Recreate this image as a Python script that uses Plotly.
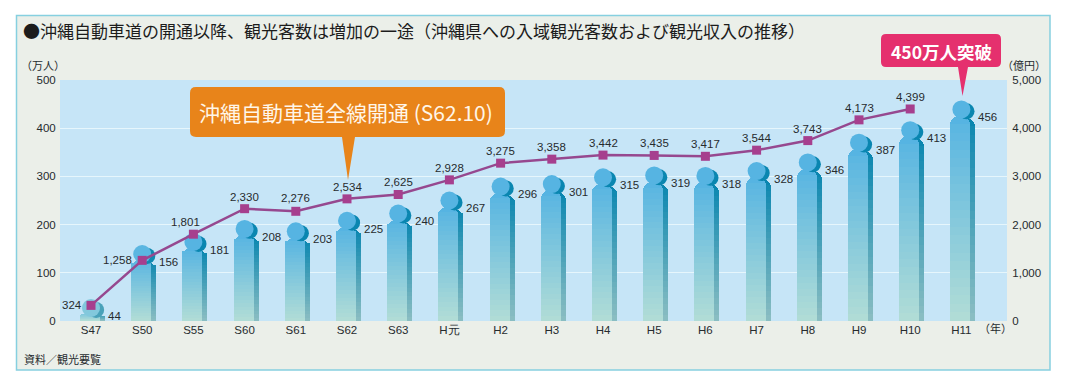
import plotly.graph_objects as go

categories = ["S47","S50","S55","S60","S61","S62","S63","H元","H2","H3","H4","H5","H6","H7","H8","H9","H10","H11"]
visitors = [44,156,181,208,203,225,240,267,296,301,315,319,318,328,346,387,413,456]
income = [324,1258,1801,2330,2276,2534,2625,2928,3275,3358,3442,3435,3417,3544,3743,4173,4399,None]
visitor_ticks = [0,100,200,300,400,500]
income_ticks = [0,1000,2000,3000,4000,5000]

W, H = 1065, 386
L, R, T, B = 60, 1007, 80, 321
PXX = 51.2
X0 = 91
xs = list(range(len(categories)))

def px(x): return (x - L) / (R - L)
def py(y): return (B - y) / (B - T)
def lerp(a, b, t): return tuple(a[i] + (b[i] - a[i]) * t for i in range(3))
def rgb(c): return "rgb(%d,%d,%d)" % tuple(round(v) for v in c)

PALE = (178, 221, 214)
TOP = (86, 180, 226)
SH_PALE = (140, 190, 194)
SH_TOP = (10, 134, 176)

def top_col(v, end): return lerp(PALE if end is TOP else SH_PALE, end, min(1.0, 0.35 + v / 260.0))

fig = go.Figure()
NB = 24
HEAD_MAIN = 17
HEAD_SH = 21
BODY_MAIN = 30
BODY_SH = 34
common = dict(hoverinfo="skip", showlegend=False)

def body(drop, end, pale, offset, width, radius):
    hts = [max(v - drop, 3) for v in visitors]
    fig.add_bar(x=xs, y=hts, base=[0]*len(xs), offset=offset, width=width,
                marker=dict(color=[rgb(top_col(v, end)) for v in visitors], cornerradius=radius, line_width=0), **common)
    for k in range(NB - 1, 0, -1):
        f = k / NB
        fig.add_bar(x=xs, y=[h * f for h in hts], base=[0]*len(xs), offset=offset, width=width,
                    marker=dict(color=[rgb(lerp(pale, top_col(v, end), (k - 0.5) / NB)) for v in visitors], line_width=0), **common)

body(BODY_SH, SH_TOP, SH_PALE, -0.215, 0.49, 9)
body(BODY_MAIN, TOP, PALE, -0.215, 0.39, 9)

fig.add_scatter(x=[i + 0.10 for i in xs], y=[v - HEAD_SH for v in visitors], mode="markers",
                marker=dict(size=16, color=[rgb(top_col(v, SH_TOP)) for v in visitors], line_width=0), **common)
fig.add_scatter(x=xs, y=[v - HEAD_MAIN for v in visitors], mode="markers",
                marker=dict(size=18, color=[rgb(top_col(v, TOP)) for v in visitors], line_width=0), **common)

fig.add_scatter(x=xs, y=income, yaxis="y2", mode="lines+markers", connectgaps=False,
                line=dict(color="#96488f", width=2.5),
                marker=dict(symbol="square", size=9, color="#a63f8e", line_width=0), **common)

NUM = "Liberation Sans, Arial, sans-serif"
CJK = "Noto Sans CJK JP, sans-serif"
TXT = "#262b2e"
ann = []
for i, v in enumerate(visitors):
    ann.append(dict(x=i, y=v, xref="x", yref="y", text=str(v), showarrow=False, xanchor="left",
                    yanchor="middle", xshift=15, yshift=-16, font=dict(family=NUM, size=11.5, color=TXT)))
line_shift = {0: (-19, 0), 1: (-25, 0), 2: (-8, 12), 4: (0, 13)}
for i, v in enumerate(income):
    if v is None:
        continue
    dx, dy = line_shift.get(i, (0, 12))
    ann.append(dict(x=i, y=v, xref="x", yref="y2", text=f"{v:,}", showarrow=False, xanchor="center",
                    yanchor="middle", xshift=dx, yshift=dy, font=dict(family=NUM, size=11.5, color=TXT)))

def label(x, y, text, size, color=TXT, family=CJK, anchor="left", bold=False):
    ann.append(dict(x=px(x), y=py(y), xref="paper", yref="paper", text=f"<b>{text}</b>" if bold else text,
                    showarrow=False, xanchor=anchor, yanchor="middle", font=dict(family=family, size=size, color=color)))

label(21, 30, "●沖縄自動車道の開通以降、観光客数は増加の一途（沖縄県への入域観光客数および観光収入の推移）", 17, "#1c1c1c")
label(43, 65, "（万人）", 11, anchor="center")
label(1024, 65, "（億円）", 11, anchor="center")
label(995, 328, "（年）", 11, anchor="center")
label(22, 359, "資料／観光要覧", 11)
label(346, 112, "沖縄自動車道全線開通 (S62.10)", 21, "#fff6e8")
ann[-1]["xanchor"] = "center"
label(941, 51, "450万人突破", 17.5, "#ffffff", bold=True)
ann[-1]["xanchor"] = "center"

def callout(x0, y0, x1, y1, r, bx0, bx1, tipx, tipy, color):
    p = lambda x, y: f"{px(x):.5f},{py(y):.5f}"
    return dict(type="path", xref="paper", yref="paper", layer="above", fillcolor=color, line_width=0,
                path=(f"M{p(x0 + r, y0)} L{p(x1 - r, y0)} Q{p(x1, y0)} {p(x1, y0 + r)} L{p(x1, y1 - r)} "
                      f"Q{p(x1, y1)} {p(x1 - r, y1)} L{p(bx1, y1)} L{p(tipx, tipy)} L{p(bx0, y1)} L{p(x0 + r, y1)} "
                      f"Q{p(x0, y1)} {p(x0, y1 - r)} L{p(x0, y0 + r)} Q{p(x0, y0)} {p(x0 + r, y0)} Z"))

def rect(x0, y0, x1, y1, fill, line=None, lw=0):
    return dict(type="rect", xref="paper", yref="paper", layer="below", x0=px(x0), x1=px(x1), y0=py(y1), y1=py(y0),
                fillcolor=fill, line=dict(color=line, width=lw) if line else dict(width=0))

shapes = [
    rect(16.5, 15.5, 1050, 370, "#ebefe9", "#86d0e0", 1.5),
    rect(L, T, R, B, "#c6e5f7"),
    callout(190, 87, 505, 137, 6, 342, 355, 348, 180, "#e8841a"),
    callout(881, 34, 1001, 67, 5, 958, 968, 962.5, 96, "#e5306e"),
]

tickfont = dict(family=NUM, size=11.5, color=TXT)
fig.update_layout(
    width=W, height=H, margin=dict(l=L, r=W - R, t=T, b=H - B, pad=0),
    paper_bgcolor="#ffffff", plot_bgcolor="rgba(0,0,0,0)", barmode="overlay", bargap=0,
    showlegend=False, annotations=ann, shapes=shapes,
    xaxis=dict(range=[-(X0 - L) / PXX, (R - X0) / PXX], tickvals=xs, ticktext=categories, showgrid=False,
               zeroline=False, showline=False, ticks="", tickfont=tickfont),
    yaxis=dict(range=[0, 500], tickvals=visitor_ticks, showgrid=True, gridcolor="#e6f6fc", gridwidth=1,
               zeroline=False, showline=False, ticks="outside", ticklen=1, tickcolor="rgba(0,0,0,0)", tickfont=tickfont),
    yaxis2=dict(range=[0, 5000], tickvals=income_ticks, tickformat=",d", overlaying="y", side="right", showgrid=False,
                zeroline=False, showline=False, ticks="outside", ticklen=2, tickcolor="rgba(0,0,0,0)", tickfont=tickfont),
)
fig.write_html("out.html", config=dict(displayModeBar=False),
               post_script="document.body.style.margin='0';document.body.style.overflow='hidden';")
